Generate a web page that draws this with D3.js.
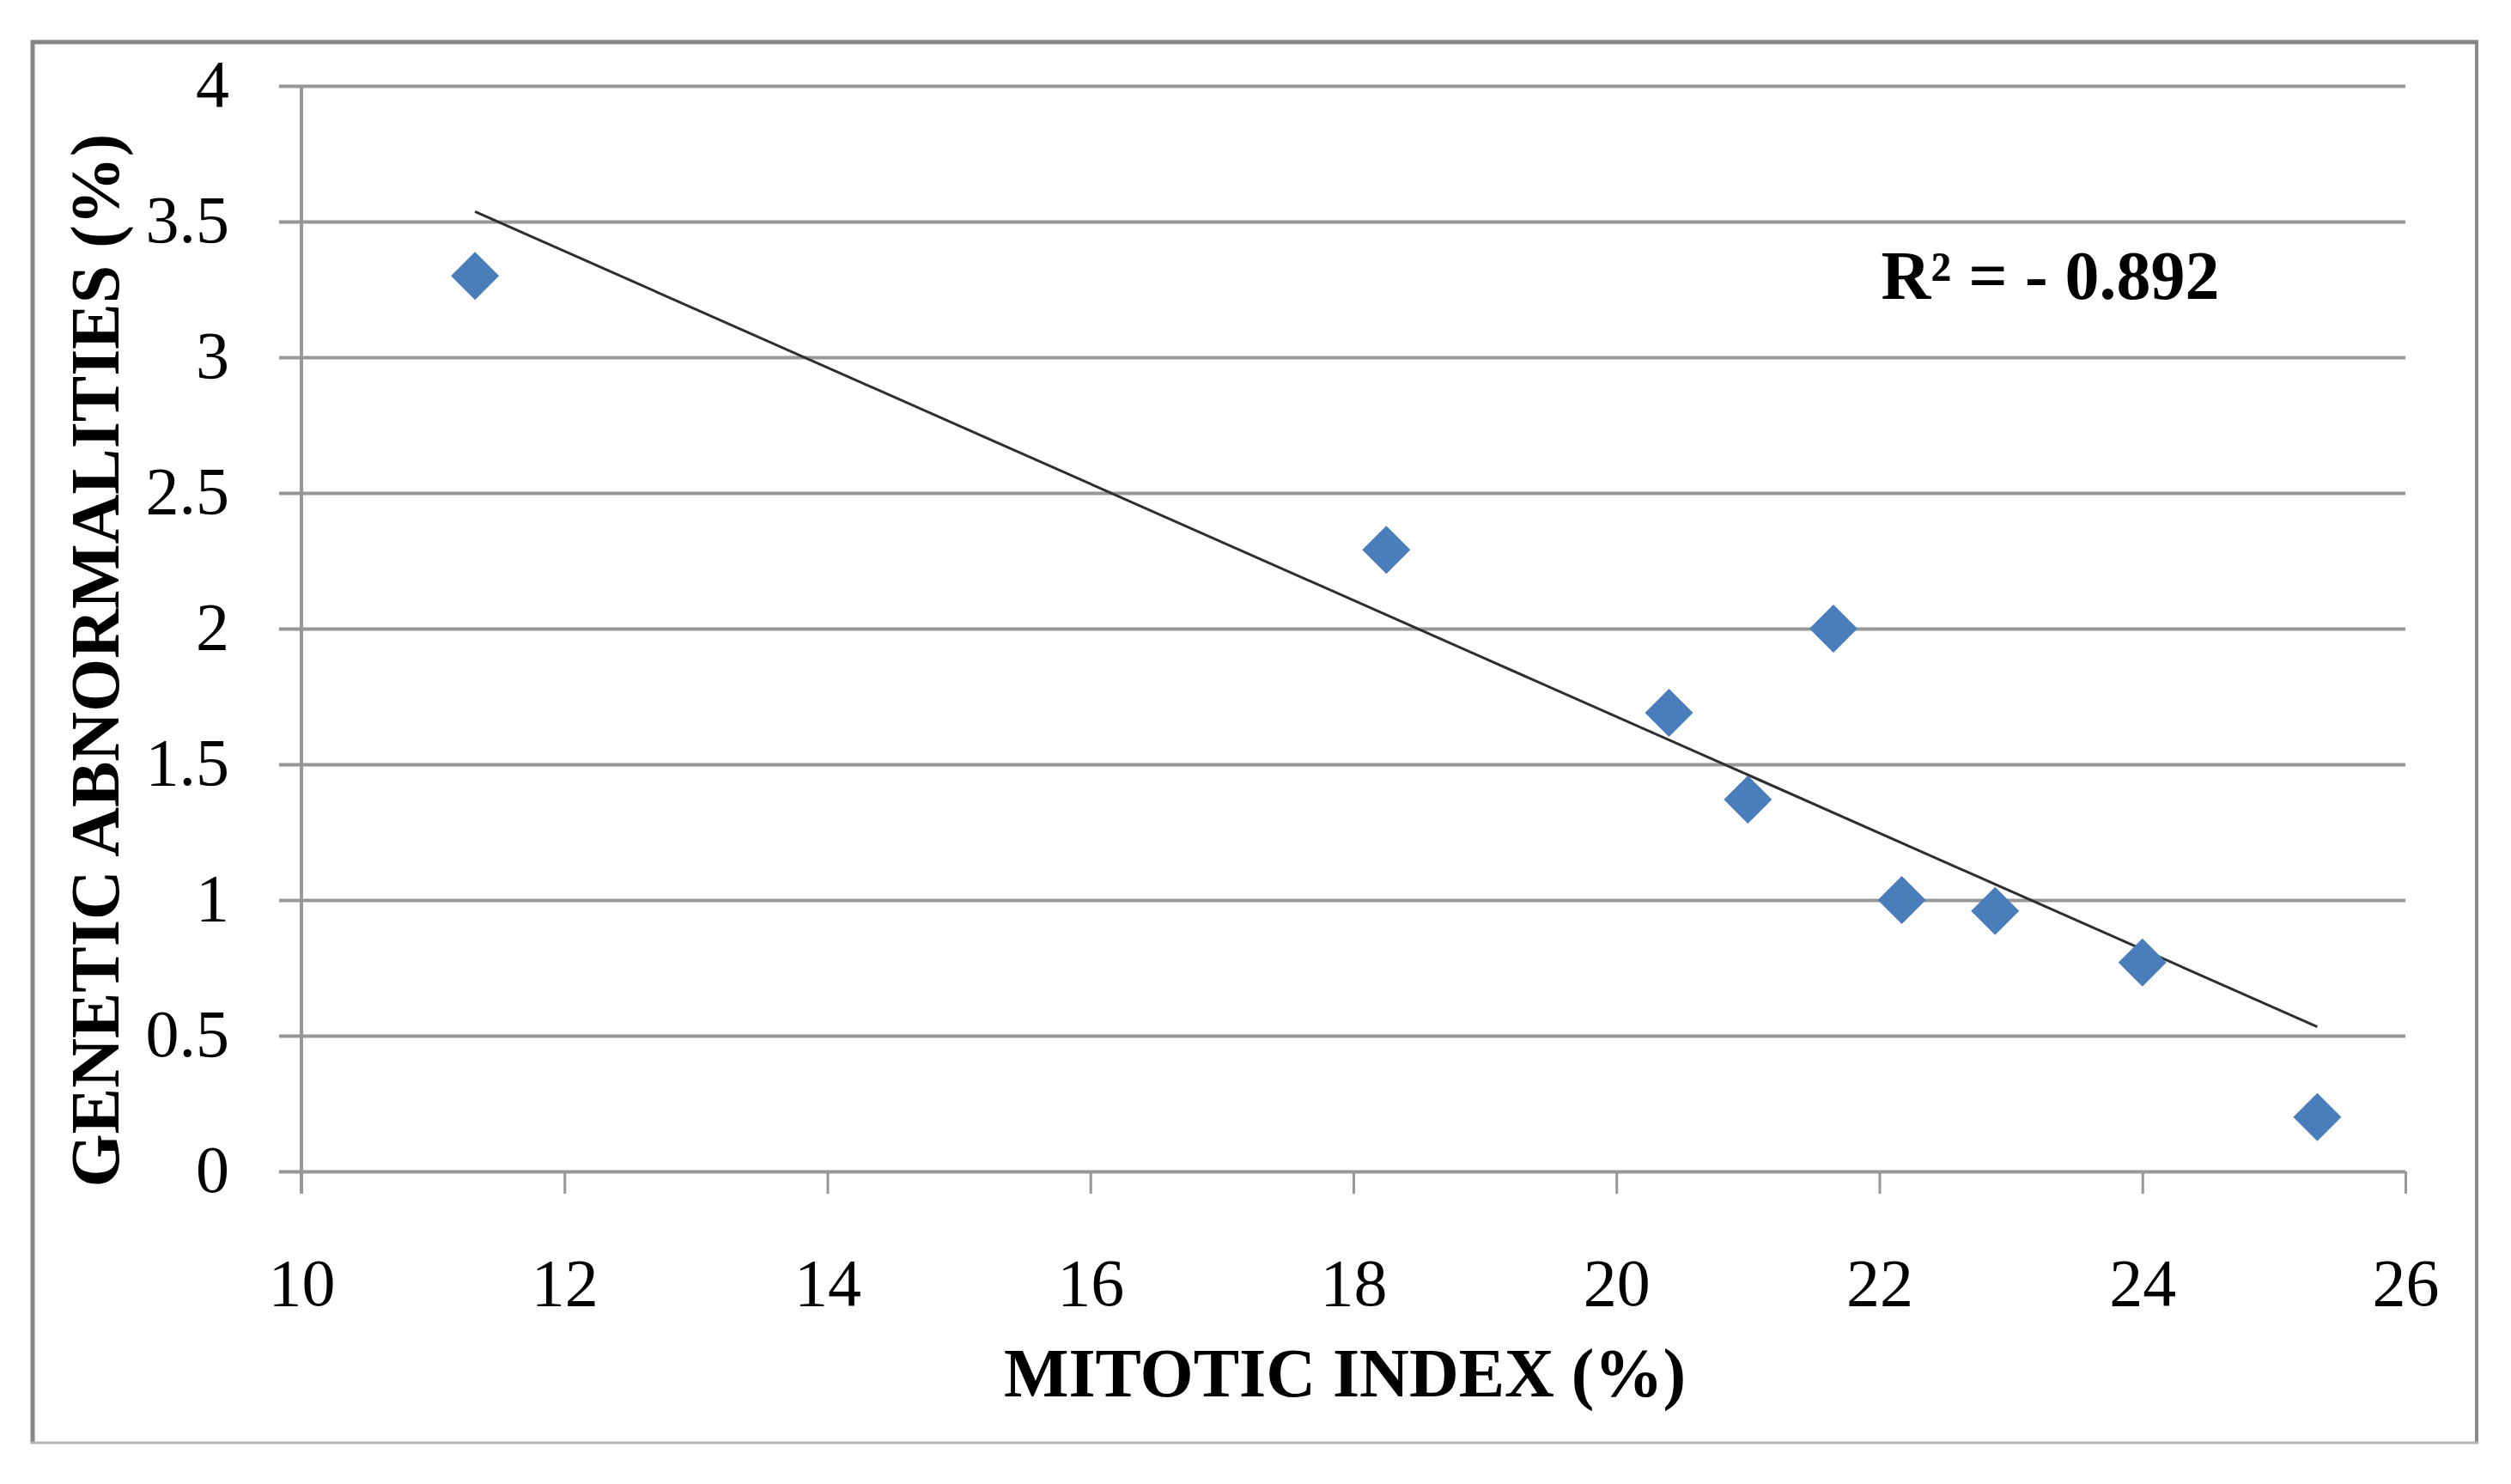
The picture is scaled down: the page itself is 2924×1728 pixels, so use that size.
<!DOCTYPE html>
<html>
<head>
<meta charset="utf-8">
<script src="https://cdn.jsdelivr.net/npm/d3@7"></script>
<style>
  body { margin: 0; background: #fff; }
  text { font-family: "Liberation Serif", "DejaVu Serif", serif; fill: #000; }
</style>
</head>
<body>
<div id="chart"></div>
<script>
// values
const mitoticIndex = [11.32, 18.25, 20.40, 21.00, 21.65, 22.17, 22.88, 24.00, 25.33];
const geneticAbnormalities = [3.30, 2.29, 1.69, 1.37, 2.00, 1.00, 0.96, 0.77, 0.20];
const xTicks = [10, 12, 14, 16, 18, 20, 22, 24, 26];
const yTicks = [0, 0.5, 1, 1.5, 2, 2.5, 3, 3.5, 4];
const xTitle = 'MITOTIC INDEX (%)';
const yTitle = 'GENETIC ABNORMALITIES (%)';
const rLabel = 'R\u00B2 = - 0.892';

const width = 2924;
const height = 1728;
const margins = { top: 100, right: 123, bottom: 364, left: 351 };
const innerWidth = width - margins.left - margins.right;
const innerHeight = height - margins.top - margins.bottom;
const tick = 26;
const gridColor = '#979797';

const points = mitoticIndex.map((x, i) => ({ x, y: geneticAbnormalities[i] }));

const xScale = d3.scaleLinear().domain([10, 26]).range([0, innerWidth]);
const yScale = d3.scaleLinear().domain([0, 4]).range([innerHeight, 0]);

const svg = d3.select('#chart')
  .append('svg')
  .attr('width', width)
  .attr('height', height);

svg.append('rect')
  .attr('width', width)
  .attr('height', height)
  .attr('fill', '#fff');

// outer frame
svg.append('line').attr('x1', 36).attr('x2', 2886).attr('y1', 49).attr('y2', 49)
  .attr('stroke', '#858585').attr('stroke-width', 5);
svg.append('line').attr('x1', 38).attr('x2', 38).attr('y1', 47).attr('y2', 1681)
  .attr('stroke', '#858585').attr('stroke-width', 5);
svg.append('line').attr('x1', 2884).attr('x2', 2884).attr('y1', 47).attr('y2', 1681)
  .attr('stroke', '#8a8a8a').attr('stroke-width', 4);
svg.append('line').attr('x1', 36).attr('x2', 2886).attr('y1', 1680).attr('y2', 1680)
  .attr('stroke', '#b5b5b5').attr('stroke-width', 3);

const g = svg.append('g')
  .attr('transform', `translate(${margins.left}, ${margins.top})`);

// y axis + horizontal gridlines
const yAxis = d3.axisLeft(yScale)
  .tickValues(yTicks)
  .tickSize(tick)
  .tickSizeOuter(0)
  .tickPadding(58)
  .tickFormat(d3.format(''));

const yG = g.append('g').attr('class', 'y axis').call(yAxis);
yG.select('.domain').remove();
yG.selectAll('line')
  .attr('x1', -tick)
  .attr('x2', innerWidth)
  .attr('stroke', gridColor)
  .attr('stroke-width', 4);
yG.selectAll('text')
  .attr('font-size', 78)
  .attr('dy', '0.30em')
  .style('font-family', '"Liberation Serif", "DejaVu Serif", serif');

// vertical axis line
g.append('line')
  .attr('x1', 0).attr('x2', 0)
  .attr('y1', 0).attr('y2', innerHeight + tick)
  .attr('stroke', gridColor)
  .attr('stroke-width', 4);

// x axis
const xAxis = d3.axisBottom(xScale)
  .tickValues(xTicks)
  .tickSize(tick)
  .tickSizeOuter(0)
  .tickPadding(75);

const xG = g.append('g')
  .attr('class', 'x axis')
  .attr('transform', `translate(0,${innerHeight})`)
  .call(xAxis);
xG.select('.domain').remove();
xG.selectAll('line')
  .attr('stroke', gridColor)
  .attr('stroke-width', 3);
xG.selectAll('text')
  .attr('font-size', 78)
  .style('font-family', '"Liberation Serif", "DejaVu Serif", serif');

// linear trendline (least squares over the points)
const mx = d3.mean(points, d => d.x);
const my = d3.mean(points, d => d.y);
const slope = d3.sum(points, d => (d.x - mx) * (d.y - my)) / d3.sum(points, d => (d.x - mx) ** 2);
const intercept = my - slope * mx;
const xExtent = d3.extent(points, d => d.x);

g.append('line')
  .attr('x1', xScale(xExtent[0]))
  .attr('y1', yScale(intercept + slope * xExtent[0]))
  .attr('x2', xScale(xExtent[1]))
  .attr('y2', yScale(intercept + slope * xExtent[1]))
  .attr('stroke', '#2e2e2e')
  .attr('stroke-width', 3);

// diamond markers
const r = 28;
g.selectAll('.pt')
  .data(points)
  .enter().append('path')
  .attr('class', 'pt')
  .attr('d', `M0,${-r}L${r},0L0,${r}L${-r},0Z`)
  .attr('transform', d => `translate(${xScale(d.x)},${yScale(d.y)})`)
  .attr('fill', '#4a7ebb');

// annotation
g.append('text')
  .attr('x', xScale(23.3))
  .attr('y', yScale(3.215))
  .attr('text-anchor', 'middle')
  .attr('font-size', 80)
  .attr('font-weight', 'bold')
  .text(rLabel);

// axis titles
svg.append('text')
  .attr('x', 1566)
  .attr('y', 1626)
  .attr('text-anchor', 'middle')
  .attr('font-size', 80)
  .attr('font-weight', 'bold')
  .text(xTitle);

svg.append('text')
  .attr('transform', 'translate(138,769) rotate(-90)')
  .attr('text-anchor', 'middle')
  .attr('font-size', 80)
  .attr('font-weight', 'bold')
  .text(yTitle);
</script>
</body>
</html>
